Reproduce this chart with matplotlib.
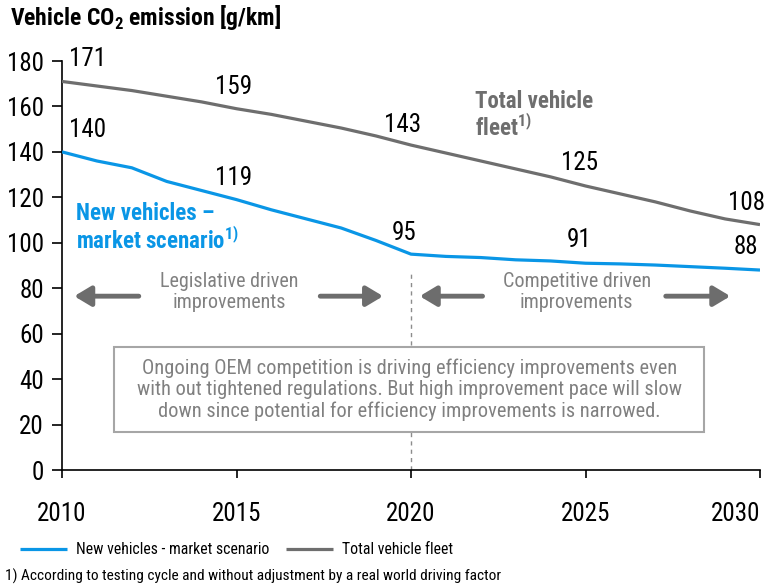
import matplotlib
matplotlib.use("Agg")
import matplotlib.pyplot as plt
from matplotlib.patches import Rectangle

FONT = "Roboto Condensed"
plt.rcParams["font.family"] = [FONT, "Liberation Sans", "DejaVu Sans"]
plt.rcParams["mathtext.fontset"] = "custom"
plt.rcParams["mathtext.rm"] = FONT
plt.rcParams["mathtext.bf"] = FONT + ":bold"

# data
years = list(range(2010, 2031))
fleet = [171, 169, 167, 164.5, 162, 159, 156.5, 153.5, 150.5, 147, 143,
         139.5, 136, 132.5, 129, 125, 121.5, 118, 114, 110.5, 108]
new_vehicles = [140, 136, 133, 127, 123, 119, 114.5, 110.5, 106.5, 101, 95,
                94, 93.5, 92.5, 92, 91, 90.7, 90.2, 89.5, 88.8, 88]
label_years = [2010, 2015, 2020, 2025, 2030]

BLUE = "#0a96e6"
GREY = "#6e6e6e"
TXT_GREY = "#808080"

fig = plt.figure(figsize=(7.71, 5.86), dpi=100)
ax = fig.add_axes([62 / 771, 1 - 470 / 586, 698 / 771, 409 / 586])

ax.plot(years, new_vehicles, color=BLUE, lw=2.3, solid_capstyle="butt",
        label="New vehicles - market scenario", zorder=3)
ax.plot(years, fleet, color=GREY, lw=2.3, solid_capstyle="butt",
        label="Total vehicle fleet", zorder=3)

# value labels (pixel offsets from the point)
fleet_off = [(26, 22), (-3, 22), (-8, 20), (-6, 23), (-13, 22)]
new_off = [(26, 22), (-3, 22), (-7, 21), (-6, 23), (-14, 23)]
for yr, fo, no in zip(label_years, fleet_off, new_off):
    i = years.index(yr)
    ax.annotate(f"{fleet[i]:g}", (yr, fleet[i]), xytext=fo,
                textcoords="offset pixels", ha="center", va="center",
                fontsize=18, clip_on=False)
    ax.annotate(f"{new_vehicles[i]:g}", (yr, new_vehicles[i]), xytext=no,
                textcoords="offset pixels", ha="center", va="center",
                fontsize=18, clip_on=False)

# series names
ax.text(2010.4, 106.5, "New vehicles \u2013\nmarket scenario$^{\\mathbf{1)}}$",
        color=BLUE, fontsize=16.5, fontweight="bold", ha="left", va="center",
        linespacing=1.05)
ax.text(2021.83, 156, "Total vehicle\nfleet$^{\\mathbf{1)}}$",
        color=GREY, fontsize=16.5, fontweight="bold", ha="left", va="center",
        linespacing=1.05)

# 2020 divider
ax.plot([2020, 2020], [0, 88], color="#8c8c8c", lw=1, ls=(0, (3, 3)), zorder=1)

# phase arrows
arrow_kw = dict(arrowstyle="-|>,head_length=0.5,head_width=0.3",
                color="#6d6d6d", lw=3.5, mutation_scale=20,
                shrinkA=0, shrinkB=0)
for tail, head in [(2012.2, 2010.35), (2017.4, 2019.2),
                   (2022.05, 2020.25), (2027.3, 2029.15)]:
    ax.annotate("", xy=(head, 76.5), xytext=(tail, 76.5), arrowprops=arrow_kw)

ax.text(2014.8, 78.5, "Legislative driven\nimprovements", color=TXT_GREY,
        fontsize=14.5, ha="center", va="center", linespacing=1.15)
ax.text(2024.75, 78.5, "Competitive driven\nimprovements", color=TXT_GREY,
        fontsize=14.5, ha="center", va="center", linespacing=1.15)

# note box
ax.add_patch(Rectangle((2011.5, 16.7), 16.9, 37.4, facecolor="white",
                       edgecolor="#a6a6a6", lw=1.5, zorder=2))
ax.text(2019.95, 35.4,
        "Ongoing OEM competition is driving efficiency improvements even\n"
        "with out tightened regulations. But high improvement pace will slow\n"
        "down since potential for efficiency improvements is narrowed.",
        color=TXT_GREY, fontsize=14.7, ha="center", va="center",
        linespacing=1.15, zorder=3)

ax.set_xlim(2010, 2030)
ax.set_ylim(0, 180)
ax.set_xticks(label_years)
ax.set_yticks(range(0, 181, 20))
ax.spines[["top", "right"]].set_visible(False)
ax.spines[["left", "bottom"]].set_linewidth(1.2)
ax.tick_params(axis="y", labelsize=18, length=7, width=1.2, pad=6)
ax.tick_params(axis="x", labelsize=18, length=6, width=1.2, pad=17)

# keep the last year label inside the canvas
ax.get_xticklabels()[-1].set_horizontalalignment("right")

fig.text(10 / 771, 1 - 18 / 586, "Vehicle CO$_\\mathbf{2}$ emission [g/km]",
         fontsize=17, fontweight="bold", ha="left", va="center")

fig.legend(loc="center left", bbox_to_anchor=(20 / 771, 1 - 550 / 586),
           ncol=2, frameon=False, fontsize=11.3, handlelength=3.0,
           handletextpad=0.55, columnspacing=1.1, borderpad=0,
           borderaxespad=0)
fig.text(5 / 771, 1 - 576 / 586,
         "1) According to testing cycle and without adjustment by a real world driving factor",
         fontsize=11.1, ha="left", va="center")

fig.savefig("out.png", dpi=100)
